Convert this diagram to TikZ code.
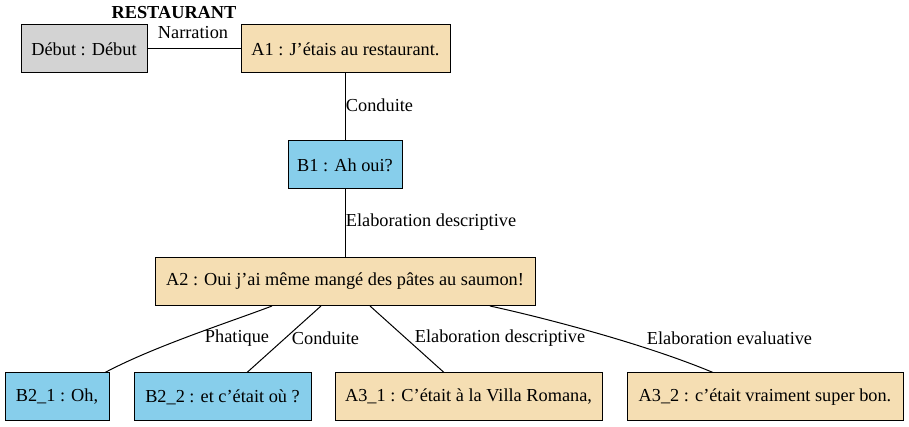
\documentclass[tikz,border=0pt]{standalone}
\usepackage{fontspec}
\setmainfont{Liberation Serif}
\definecolor{gvgray}{HTML}{D3D3D3}
\definecolor{gvwheat}{HTML}{F5DEB3}
\definecolor{gvsky}{HTML}{87CEEB}
\tikzset{
  box/.style={draw=black, line width=1pt, rectangle, minimum height=48pt, inner sep=0pt, font=\fontsize{18.3}{22}\selectfont},
  lbl/.style={inner sep=0pt, font=\fontsize{18.3}{22}\selectfont},
  edge/.style={draw=black, line width=1pt},
}
\begin{document}
\begin{tikzpicture}[x=1pt,y=1pt]
\useasboundingbox (0,0) rectangle (909,427);
\node[lbl, font=\fontsize{18.3}{22}\selectfont\bfseries] (title) at (174,414) {RESTAURANT};
\node[box, fill=gvgray, minimum width=126pt] (debut) at (84,378) {Début : Début};
\node[box, fill=gvwheat, minimum width=209pt] (a1) at (345.5,378) {A1 : J’étais au restaurant.};
\node[box, fill=gvsky, minimum width=114pt] (b1) at (345,262) {B1 : Ah oui?};
\node[box, fill=gvwheat, minimum width=380pt] (a2) at (345,145.5) {A2 : Oui j’ai même mangé des pâtes au saumon!};
\node[box, fill=gvsky, minimum width=104pt] (b21) at (57,30) {B2\_1 : Oh,};
\node[box, fill=gvsky, minimum width=177pt] (b22) at (222.5,30) {B2\_2 : et c’était où ?};
\node[box, fill=gvwheat, minimum width=267pt] (a31) at (468.5,30) {A3\_1 : C’était à la Villa Romana,};
\node[box, fill=gvwheat, minimum width=276pt] (a32) at (765,30) {A3\_2 : c’était vraiment super bon.};

\draw[edge] (debut.east) -- (debut.east -| a1.west);
\draw[edge] (a1.south -| b1.north) -- (b1.north);
\draw[edge] (b1.south) -- (b1.south |- a2.north);
\draw[edge] ([xshift=-73pt]a2.south) .. controls ([xshift=-115pt,yshift=-16pt]a2.south) and ([xshift=-190pt,yshift=-40pt]a2.south) .. ([xshift=48pt]b21.north);
\draw[edge] ([xshift=-24pt]a2.south) -- ([xshift=24.5pt]b22.north);
\draw[edge] ([xshift=25pt]a2.south) -- ([xshift=-24.5pt]a31.north);
\draw[edge] ([xshift=145pt]a2.south) .. controls ([xshift=200pt,yshift=-12pt]a2.south) and ([xshift=300pt,yshift=-38pt]a2.south) .. ([xshift=-52pt]a32.north);

\node[lbl] (lnarr) at (193,394) {Narration};
\node[lbl] (lcond1) at (379.5,322) {Conduite};
\node[lbl] (lelab1) at (431,205) {Elaboration descriptive};
\node[lbl] (lphat) at (237,89) {Phatique};
\node[lbl] (lcond2) at (325.5,89) {Conduite};
\node[lbl] (lelab2) at (500,89) {Elaboration descriptive};
\node[lbl] (leval) at (729.5,89) {Elaboration evaluative};
\end{tikzpicture}
\end{document}
